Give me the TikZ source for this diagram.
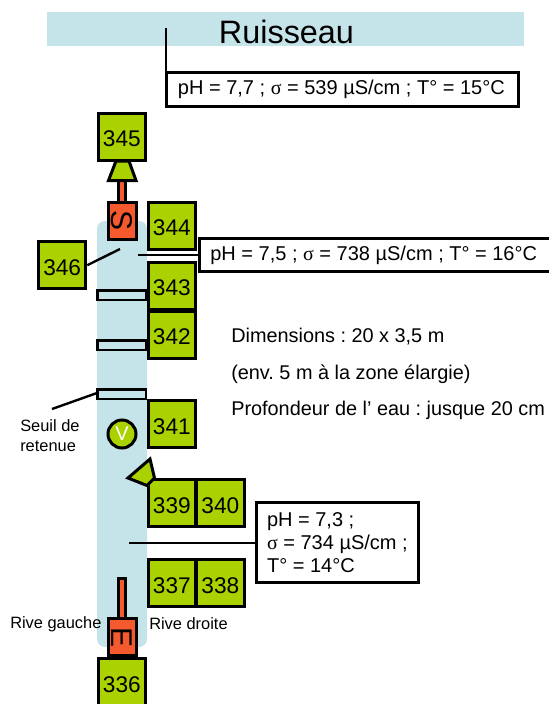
\documentclass[tikz,border=0pt]{standalone}
\usepackage{fontspec}
\setmainfont{Liberation Sans}
\newfontfamily\greekf{Liberation Serif}
\definecolor{water}{HTML}{C5E4E9}
\definecolor{lime}{HTML}{AAD200}
\definecolor{redo}{HTML}{F45A2D}
\newcommand{\infotext}[2]{\parbox[c]{#1}{\raggedright #2}}
\tikzset{
  x=0.75pt,y=-0.75pt,
  ln/.style={draw=black,line width=2.25pt,line join=miter},
  conn/.style={draw=black,line width=1.8pt},
  pt/.style={ln,fill=lime,minimum width=35.5pt,minimum height=35.5pt,inner sep=0pt,text height=15pt,text depth=0pt,font=\fontsize{17}{18}\selectfont,anchor=north west},
  info/.style={ln,fill=white,anchor=north west,font=\fontsize{15}{17.3}\selectfont},
  weir/.style={draw=black,line width=1.9pt,fill=none},
  redbox/.style={ln,fill=redo,minimum width=21pt,minimum height=27.8pt,inner sep=0pt,anchor=north west,font=\fontsize{22.5}{24}\selectfont},
  lab/.style={inner sep=0pt,font=\fontsize{14.9}{19}\selectfont,anchor=west},
  small/.style={inner sep=0pt,font=\fontsize{12.3}{15}\selectfont,anchor=west},
}
\begin{document}
\frenchspacing
\begin{tikzpicture}
\useasboundingbox (0,0) rectangle (549,704);
\clip (0,0) rectangle (549,704);
\fill[water] (47,12) rectangle (524,46);
\fill[water,rounded corners=6pt] (97,221) rectangle (147,647);
\node[font=\fontsize{24.3}{26}\selectfont,inner sep=0pt] (title) at (286.5,32) {Ruisseau};
% stems
\draw[ln,fill=redo] (118.5,180) rectangle (125.5,202);
\draw[ln,fill=redo] (118.5,578.5) rectangle (125.5,618);
\draw[ln,fill=lime] (116,161) -- (129,161) -- (136,180.5) -- (108.5,180.5) -- cycle;
% weirs
\draw[weir] (97.3,290.5) rectangle (146,300);
\draw[weir] (97.3,340.5) rectangle (146,350);
\draw[weir] (97.3,389.5) rectangle (146,399);
\coordinate (wl) at (97,393);
\coordinate (sl) at (52,409);
\draw[conn] (sl) -- (wl);
% stations
\node[pt] (p345) at (96.7,111.7) {345};
\node[pt] (p344) at (146.7,200.7) {344};
\node[pt] (p343) at (146.7,260.5) {343};
\node[pt] (p342) at (146.7,309.5) {342};
\node[pt] (p341) at (146.7,399) {341};
\node[pt] (p339) at (146.7,478) {339};
\node[pt,minimum width=36.5pt] (p340) at (194.5,478) {340};
\node[pt] (p337) at (146.7,558) {337};
\node[pt,minimum width=36.5pt] (p338) at (194.5,558) {338};
\node[pt] (p336) at (96.7,657) {336};
\node[pt] (p346) at (37,240) {346};
\draw[ln,fill=lime] (128,478) -- (150,459) -- (154.5,478) -- (147,485.5) -- cycle;
\node[redbox] (s) at (106.7,200.7) {\rotatebox{-90}{S}};
\node[redbox] (e) at (106.7,617) {\rotatebox{-90}{E}};
\node[draw=black,line width=2.25pt,circle,fill=lime,minimum size=21pt,inner sep=0pt,text=white,font=\fontsize{15}{16}\selectfont] (v) at (122,434) {V};
% info boxes
\node[info,inner xsep=8.6pt,inner ysep=0pt,minimum height=25.9pt] (i1) at (165,70.5) {\infotext{246.8pt}{pH = 7,7 ; {\greekf σ} = 539 µS/cm ; T° = 15°C}};
\node[info,inner xsep=8.1pt,inner ysep=0pt,minimum height=24.7pt] (i2) at (198,237) {\infotext{270pt}{pH = 7,5 ; {\greekf σ} = 738 µS/cm ; T° = 16°C}};
\node[info,inner xsep=7.9pt,inner ysep=0pt,minimum height=60pt] (i3) at (255,501) {\infotext{105.7pt}{pH = 7,3 ;\\{\greekf σ} = 734 µS/cm ;\\T° = 14°C}};
% connectors
\coordinate (c1) at (166,28);
\draw[conn] (c1) -- (c1 |- i1.north);
\coordinate (c2) at (120,249);
\draw[conn] (p346.east) -- (c2);
\coordinate (c3) at (138,255);
\draw[conn] (c3) -- (c3 -| i2.west);
\coordinate (c5) at (129,543);
\draw[conn] (c5) -- (c5 -| i3.west);
% labels
\node[lab] (d1) at (231,337) {Dimensions : 20 x 3,5 m};
\node[lab] (d2) at (231,374) {(env. 5 m à la zone élargie)};
\node[lab] (d3) at (231,410) {Profondeur de l’ eau : jusque 20 cm};
\node[small,align=left] (seuil) at (20,436) {Seuil de\\retenue};
\node[small] (rg) at (10,624) {Rive gauche};
\node[small] (rd) at (149,624) {Rive droite};
\end{tikzpicture}
\end{document}
